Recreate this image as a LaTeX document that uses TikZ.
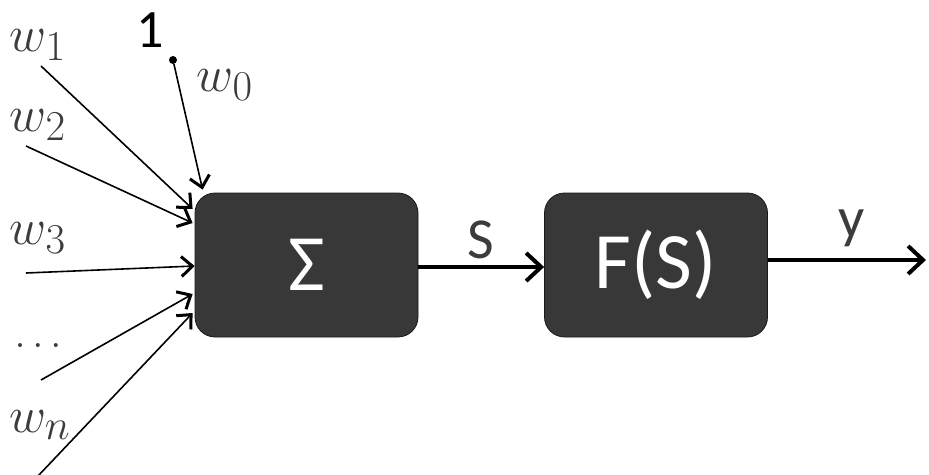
\documentclass[tikz,border=0pt]{standalone}
\usepackage{fontspec}
\setmainfont{Carlito}
\usetikzlibrary{arrows.meta}
\definecolor{boxfill}{HTML}{383838}
\definecolor{lab}{HTML}{3C3C3C}
\begin{document}
\begin{tikzpicture}[x=1pt,y=-1pt,
  blk/.style={draw=black!90,line width=0.8pt,fill=boxfill,rounded corners=20pt,
    minimum width=223pt,minimum height=144pt,inner sep=0pt,text=white,
    font=\fontsize{80}{82}\selectfont},
  inp/.style={line width=1.6pt,-{Straight Barb[length=11pt,width=20pt,line width=3pt]}},
  outp/.style={line width=4.5pt,-{Straight Barb[length=15pt,width=28pt,line width=4pt]}},
  wl/.style={text=lab,font=\Huge,scale=2.05,inner sep=0pt},
  sl/.style={text=lab,font=\fontsize{58}{60}\selectfont,inner sep=0pt}]
\useasboundingbox (0,0) rectangle (929,474);
\node[blk] (sum) at (306.5,265) {Σ};
\node[blk] (fs) at (656,265) {F(S)};
% labels
\node[wl] (lw1) at (38,45) {$w_1$};
\node[wl] (lw2) at (38,125) {$w_2$};
\node[wl] (lw3) at (38,238) {$w_3$};
\node[wl,scale=0.8] (ldots) at (38,346) {$\dots$};
\node[wl] (lwn) at (40,425) {$w_n$};
\node[wl] (lw0) at (225,85) {$w_0$};
\node[inner sep=0pt,font=\fontsize{54}{56}\selectfont] (one) at (150,30) {1};
\node[sl] (ls) at (481,240) {S};
\node[sl] (ly) at (852,228) {y};
% start points
\node[circle,fill=black,inner sep=0pt,minimum size=8pt] (dot) at (173,60) {};
\coordinate (s1) at (41,66);
\coordinate (s2) at (26,146);
\coordinate (s3) at (26,273);
\coordinate (s4) at (41,380);
\coordinate (s5) at (38,476);
\coordinate (yend) at (926,260);
% inputs
\draw[inp] (dot) -- ([xshift=8pt,yshift=3pt]sum.north west);
\draw[inp] (s1) -- ([xshift=-2pt,yshift=56pt]sum.west);
\draw[inp] (s2) -- ([xshift=-2pt,yshift=42pt]sum.west);
\draw[inp] (s3) -- ([yshift=-1pt]sum.west);
\draw[inp] (s4) -- ([xshift=-2pt,yshift=-29pt]sum.west);
\draw[inp] (s5) -- ([xshift=-2pt,yshift=-48pt]sum.west);
% outputs
\draw[outp] ([yshift=-2pt]sum.east) -- ([yshift=-2pt]fs.west);
\draw[outp] ([yshift=5pt]fs.east) -- (yend);
\end{tikzpicture}
\end{document}
